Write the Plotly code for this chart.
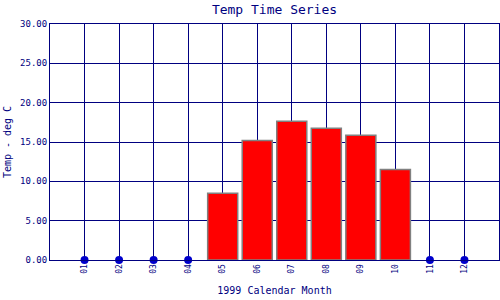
import plotly.graph_objects as go

months = ["01", "02", "03", "04", "05", "06", "07", "08", "09", "10", "11", "12"]
temps = [0, 0, 0, 0, 8.5, 15.2, 17.65, 16.75, 15.85, 11.5, 0, 0]
y_ticks = [0, 5, 10, 15, 20, 25, 30]

NAVY = "#000080"
FONT = "DejaVu Sans Mono"

pos = list(range(1, len(months) + 1))
bar_x = [p for p, t in zip(pos, temps) if t > 0]
bar_y = [t for t in temps if t > 0]
pt_x = [p for p, t in zip(pos, temps) if t == 0]
pt_y = [t for t in temps if t == 0]

fig = go.Figure()
fig.add_trace(go.Bar(x=bar_x, y=bar_y, width=0.87,
                     marker=dict(color="#ff0000", line=dict(color="#808080", width=1.5))))
fig.add_trace(go.Scatter(x=pt_x, y=pt_y, mode="markers", cliponaxis=False,
                         marker=dict(color="#0000cc", size=8)))

fig.update_layout(
    width=500, height=300,
    margin=dict(l=50, r=1, t=24, b=40),
    paper_bgcolor="white", plot_bgcolor="white",
    showlegend=False,
    font=dict(family=FONT, color=NAVY),
    title=dict(text="Temp Time Series", x=0.549, xanchor="center", y=1 - 9 / 300,
               yanchor="middle", font=dict(size=13, color=NAVY, family=FONT)),
)
fig.update_xaxes(
    range=[0, 13], tickmode="array", tickvals=pos, ticktext=months,
    tickangle=-90, tickfont=dict(size=8, color=NAVY, family=FONT),
    showgrid=True, gridcolor=NAVY, gridwidth=1,
    showline=True, linecolor=NAVY, linewidth=1, mirror=True,
    ticks="", zeroline=False,
    title=dict(text="1999 Calendar Month", font=dict(size=10, color=NAVY, family=FONT), standoff=14),
)
fig.update_yaxes(
    range=[0, 30], tickmode="array", tickvals=y_ticks,
    ticktext=[f"{v:.2f}" for v in y_ticks],
    tickfont=dict(size=9, color=NAVY, family=FONT),
    showgrid=True, gridcolor=NAVY, gridwidth=1,
    showline=True, linecolor=NAVY, linewidth=1, mirror=True,
    ticks="", zeroline=False,
    title=dict(text="Temp - deg C", font=dict(size=10, color=NAVY, family=FONT), standoff=6),
)
fig.write_html("out.html")
